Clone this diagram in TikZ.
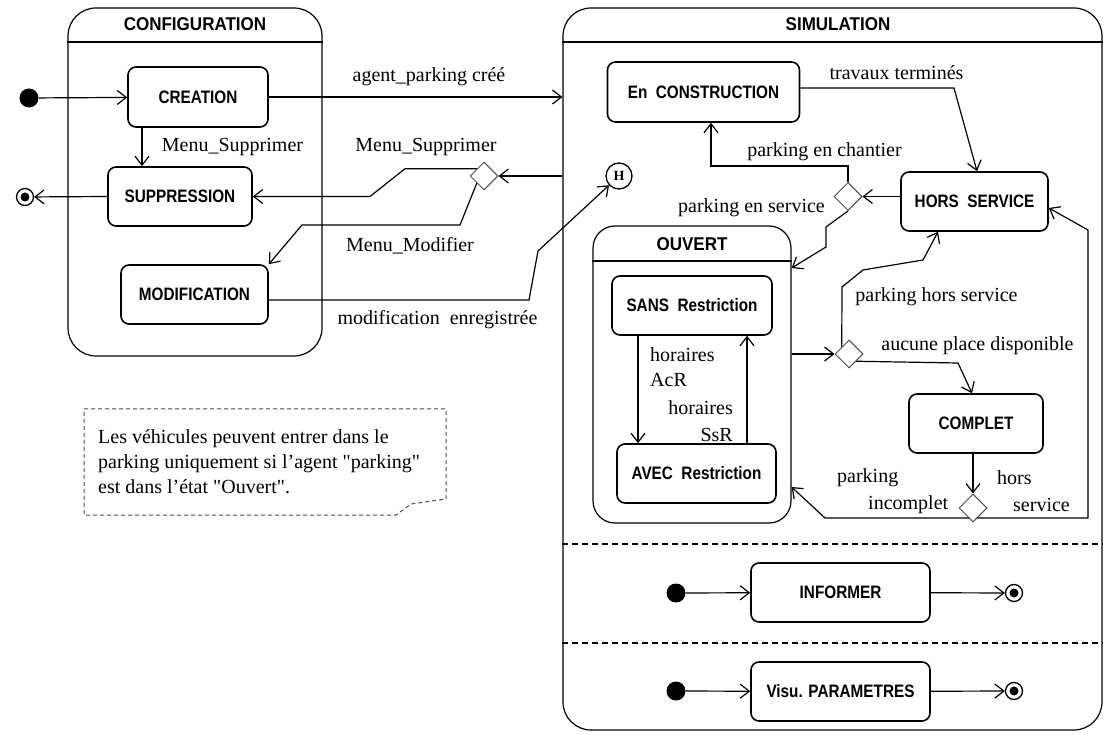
\documentclass[tikz,border=0pt]{standalone}
\usepackage{fontspec}
\setmainfont{Liberation Serif}
\newfontfamily\plainserif{Liberation Serif}
\newfontfamily\statefont{Liberation Sans}[FakeStretch=0.85]
\newfontfamily\titlefont{Liberation Sans}[FakeStretch=0.92]
\usetikzlibrary{arrows.meta,shapes.geometric}
\begin{document}
\begin{tikzpicture}[x=1pt,y=-1pt,
  cont/.style={draw, line width=1.2pt, inner sep=0pt},
  stat/.style={draw, line width=1.6pt, rounded corners=8pt, inner sep=0pt, font={\statefont\bfseries\fontsize{18}{20}\selectfont}},
  ttl/.style={inner sep=0pt, font={\titlefont\bfseries\fontsize{18.5}{20}\selectfont}},
  lab/.style={inner sep=0pt, font={\plainserif\fontsize{20}{24}\selectfont}},
  dia/.style={diamond, draw=black!70, line width=1pt, minimum width=28pt, minimum height=28pt, inner sep=0pt, aspect=1, fill=white},
  initst/.style={circle, fill=black, minimum size=19pt, inner sep=0pt},
  finst/.style={circle, draw, line width=1.3pt, minimum size=17pt, inner sep=0pt, path picture={\fill[black] (path picture bounding box.center) circle (4.5pt);}},
  hist/.style={circle, draw, line width=1.3pt, minimum size=26pt, inner sep=0pt, font={\plainserif\bfseries\fontsize{14}{14}\selectfont}},
  arr/.style={line width=1.2pt, -{Straight Barb[length=9pt,width=14pt]}},
  sep/.style={line width=1.2pt, dash pattern=on 6pt off 4pt},
  notebd/.style={black!70, line width=1pt, dash pattern=on 4pt off 3pt}
]
\useasboundingbox (0,0) rectangle (1104,735);

% containers
\node[cont, rounded corners=28pt, minimum width=254pt, minimum height=348pt] (conf) at (195,182) {};
\node[cont, rounded corners=28pt, minimum width=539pt, minimum height=722pt] (sim) at (832.5,369) {};
\node[cont, rounded corners=22pt, minimum width=198pt, minimum height=297pt] (ouvert) at (692,374.5) {};
\draw[line width=1.2pt] (conf.west |- 0,42) -- (conf.east |- 0,42);
\draw[line width=1.2pt] (sim.west |- 0,42) -- (sim.east |- 0,42);
\draw[line width=1.2pt] (ouvert.west |- 0,261) -- (ouvert.east |- 0,261);
\node[ttl] (tconf) at (195,24) {CONFIGURATION};
\node[ttl] (tsim) at (838,24) {SIMULATION};
\node[ttl] (touv) at (692,244) {OUVERT};
\draw[sep] (sim.west |- 0,544) -- (sim.east |- 0,544);
\draw[sep] (sim.west |- 0,643) -- (sim.east |- 0,643);

% states
\node[stat, minimum width=140pt, minimum height=60pt] (creation) at (198,97) {CREATION};
\node[stat, minimum width=144pt, minimum height=59pt] (suppression) at (180,196.5) {SUPPRESSION};
\node[stat, minimum width=147pt, minimum height=59pt] (modification) at (194.5,294.5) {MODIFICATION};
\node[stat, minimum width=192pt, minimum height=60pt] (construction) at (703.5,92) {En\ \ CONSTRUCTION};
\node[stat, minimum width=147pt, minimum height=59pt] (horsservice) at (974.5,201.5) {HORS\ \ SERVICE};
\node[stat, minimum width=160pt, minimum height=59pt] (sans) at (692,305.5) {SANS\ \ Restriction};
\node[stat, minimum width=159pt, minimum height=59pt] (avec) at (696.5,473.5) {AVEC\ \ Restriction};
\node[stat, minimum width=134pt, minimum height=59pt] (complet) at (976,423.5) {COMPLET};
\node[stat, minimum width=179pt, minimum height=59pt] (informer) at (840.5,592.5) {INFORMER};
\node[stat, minimum width=179pt, minimum height=59pt] (visu) at (840.5,691.5) {Visu. PARAMETRES};

% pseudo states
\node[initst] (init1) at (29,98) {};
\node[initst] (init2) at (676,593) {};
\node[initst] (init3) at (676,691) {};
\node[finst] (fin1) at (25,197) {};
\node[finst] (fin2) at (1014,593) {};
\node[finst] (fin3) at (1014,691) {};
\node[hist] (hist) at (619,176) {H};
\node[dia] (dconf) at (484,176) {};
\node[dia] (d1) at (848,196.5) {};
\node[dia] (d2) at (849,354) {};
\node[dia] (d3) at (973,508) {};

% configuration transitions
\draw[arr] (init1) -- (creation);
\draw[arr] ([xshift=-56pt]creation.south) -- ([xshift=-38pt]suppression.north);
\draw[arr] (suppression.west) -- (fin1);
\draw[arr] (creation.east) -- (sim.west |- creation.east);
\draw[arr] (sim.west |- dconf) -- (dconf.east);
\draw[arr] (dconf.north west) -- (405,168.75) -- (370,196.5) -- (suppression.east);
\draw[arr] (dconf.south west) -- (460,225) -- (302,225) -- (modification.north east);
\draw[arr] ([yshift=-5.5pt]modification.east) -- (529,300) -- (538,251) -- (hist);

% simulation transitions
\draw[arr] ([yshift=4pt]construction.east) -- (954,88) -- ([xshift=2.5pt]horsservice.north);
\draw[arr] ([yshift=5pt]horsservice.west) -- (d1.east);
\draw[arr] (d1.north) -- (848,166) -- (711,166) -- (construction.south -| 711,0);
\draw[arr] (d1.south) -- (826,227) -- (826,247) -- (ouvert.east |- 0,268);
\draw[arr] ([xshift=-54pt]sans.south) -- ([xshift=-58.5pt]avec.north);
\draw[arr] ([xshift=50.5pt]avec.north) -- ([xshift=55pt]sans.south);
\draw[arr] (ouvert.east |- d2) -- (d2.west);
\draw[arr] (d2.north west) -- (842,287) -- (863,270) -- (923,260) -- ([xshift=-36.5pt]horsservice.south);
\draw[arr] (d2.south east) -- (958,363) -- ([xshift=-4pt]complet.north);
\draw[arr] (complet.south -| d3) -- (d3.north);
\draw[arr] ([xshift=-4pt,yshift=-10pt]d3.center) -- (825,518) -- (ouvert.east |- 0,487);
\draw[arr] ([xshift=4pt,yshift=-10pt]d3.center) -- (1088,518) -- (1088,230) -- ([yshift=-6.5pt]horsservice.east);
\draw[arr] (init2) -- (informer);
\draw[arr] (informer) -- (fin2);
\draw[arr] (init3) -- (visu);
\draw[arr] (visu) -- (fin3);

% labels
\node[lab] (l1) at (429,77) {agent\_parking créé};
\node[lab] (l2) at (232.5,147) {Menu\_Supprimer};
\node[lab] (l3) at (426,147) {Menu\_Supprimer};
\node[lab] (l4) at (410,246) {Menu\_Modifier};
\node[lab] (l5) at (437.5,320) {modification\ \ enregistrée};
\node[lab] (l6) at (896.5,73) {travaux terminés};
\node[lab] (l7) at (824.5,152) {parking en chantier};
\node[lab] (l8) at (751.5,208) {parking en service};
\node[lab, anchor=west] (l9) at (650,355) {horaires};
\node[lab, anchor=west] (l10) at (650,380) {AcR};
\node[lab, anchor=east] (l11) at (733,408) {horaires};
\node[lab, anchor=east] (l12) at (733,435) {SsR};
\node[lab] (l13) at (936.5,297) {parking hors service};
\node[lab] (l14) at (977.5,346) {aucune place disponible};
\node[lab, anchor=west] (l15) at (837,478) {parking};
\node[lab, anchor=west] (l16) at (868,505) {incomplet};
\node[lab, anchor=west] (l17) at (997,478) {hors};
\node[lab, anchor=west] (l18) at (1013,505) {service};

% note
\draw[notebd] (446,499) -- (446,409) -- (84,409) -- (84,515) -- (396,515) -- (411,504) -- (446,499);
\node[lab, anchor=west, align=left, font={\plainserif\fontsize{20}{25}\selectfont}] (note) at (98,462) {Les véhicules peuvent entrer dans le\\parking uniquement si l’agent "parking"\\est dans l’état "Ouvert".};
\end{tikzpicture}
\end{document}
